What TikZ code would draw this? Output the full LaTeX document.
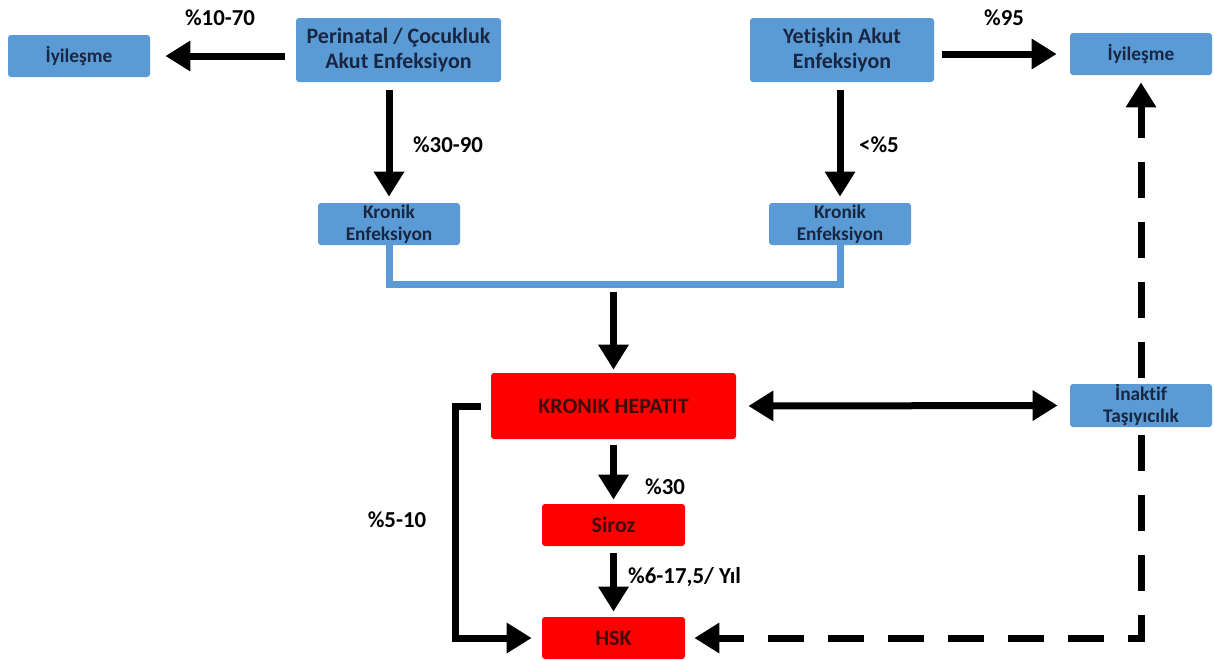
\documentclass[tikz,border=0pt]{standalone}
\usepackage{fontspec}
\setmainfont{Carlito}[Ligatures=NoCommon]
\usetikzlibrary{arrows.meta}
\definecolor{boxblue}{RGB}{91,155,213}
\definecolor{boxred}{RGB}{255,0,0}
\definecolor{bluetext}{RGB}{24,38,66}
\definecolor{redtext}{RGB}{62,10,10}
\tikzset{
	>={Triangle[length=0.50cm, width=0.58cm]},
	bluebox/.style={fill=boxblue, rounded corners=0.06cm, text=bluetext, align=center, inner sep=0pt, font=\bfseries\fontsize{11}{12.5}\selectfont},
	bigblue/.style={bluebox, font=\bfseries\fontsize{12.5}{14.5}\selectfont},
	redbox/.style={fill=boxred, rounded corners=0.06cm, text=redtext, align=center, inner sep=0pt, font=\bfseries\fontsize{12.5}{14.5}\selectfont},
	flow/.style={draw=black, line width=0.14cm, ->},
	flowdash/.style={flow, dash pattern=on 0.72cm off 0.48cm},
	perc/.style={black, font=\bfseries\fontsize{13}{15}\selectfont},
}
\begin{document}
\begin{tikzpicture}
	\useasboundingbox[fill=white] (0.00,0.00) rectangle (24.28,-13.18);
	% boxes
	\node[bluebox, minimum width=2.84cm, minimum height=0.84cm] (iyiL) at (1.58,-1.12) {İyileşme};
	\node[bigblue, minimum width=4.10cm, minimum height=1.28cm] (perin) at (7.97,-1.00) {Perinatal / Çocukluk\\Akut Enfeksiyon};
	\node[bluebox, minimum width=2.84cm, minimum height=0.84cm] (kronL) at (7.78,-4.48) {Kronik\\Enfeksiyon};
	\node[bigblue, minimum width=3.68cm, minimum height=1.28cm] (yetis) at (16.84,-1.00) {Yetişkin Akut\\Enfeksiyon};
	\node[bluebox, minimum width=2.84cm, minimum height=0.84cm] (iyiR) at (22.82,-1.08) {İyileşme};
	\node[bluebox, minimum width=2.84cm, minimum height=0.84cm] (kronR) at (16.80,-4.48) {Kronik\\Enfeksiyon};
	\node[redbox, minimum width=4.90cm, minimum height=1.32cm] (kh) at (12.27,-8.12) {KRONIK HEPATIT};
	\node[bluebox, minimum width=2.84cm, minimum height=0.86cm] (inakt) at (22.82,-8.11) {İnaktif\\Taşıyıcılık};
	\node[redbox, minimum width=2.86cm, minimum height=0.84cm] (siroz) at (12.27,-10.50) {Siroz};
	\node[redbox, minimum width=2.86cm, minimum height=0.84cm] (hsk) at (12.27,-12.76) {HSK};
	\coordinate (merge) at (12.27,-5.84);
	% connectors
	\draw[flow, shorten <=0.22cm, shorten >=0.30cm] (perin.west |- iyiL) -- (iyiL.east);
	\draw[flow, shorten <=0.16cm, shorten >=0.26cm] (yetis.east |- iyiR) -- (iyiR.west);
	\draw[flow, shorten <=0.16cm, shorten >=0.12cm] (perin.south -| kronL) -- (kronL.north);
	\draw[flow, shorten <=0.16cm, shorten >=0.12cm] (yetis.south -| kronR) -- (kronR.north);
	\draw[draw=boxblue, line width=0.14cm] (kronL.south) -- ++(0.00,-0.78) -| (kronR.south);
	\draw[flow, shorten >=0.06cm] (merge) -- (kh.north);
	\draw[flow, <->, shorten <=0.24cm, shorten >=0.24cm] (kh.east) -- (inakt.west);
	\draw[flow, shorten <=0.12cm, shorten >=0.08cm] (kh.south) -- (siroz.north);
	\draw[flow, shorten <=0.14cm, shorten >=0.10cm] (siroz.south) -- (hsk.north);
	\draw[flow, line join=miter, shorten <=0.20cm, shorten >=0.20cm] (kh.west) -- ++(-0.70,0.00) |- (hsk.west);
	\draw[flowdash, shorten <=0.12cm, shorten >=0.14cm] (inakt.north) -- (iyiR.south);
	\draw[flowdash, line join=miter, shorten <=0.16cm, shorten >=0.18cm] (inakt.south) |- (hsk.east);
	% labels
	\node[perc] (l1070) at (4.40,-0.36) {\%10-70};
	\node[perc] (l95) at (20.08,-0.36) {\%95};
	\node[perc] (l3090) at (8.96,-2.90) {\%30-90};
	\node[perc] (l5) at (17.58,-2.90) {<\%5};
	\node[perc] (l510) at (7.94,-10.40) {\%5-10};
	\node[perc] (l30) at (13.30,-9.74) {\%30};
	\node[perc, anchor=west] (l617) at (12.44,-11.54) {\%6-17,5/ Yıl};
\end{tikzpicture}
\end{document}
